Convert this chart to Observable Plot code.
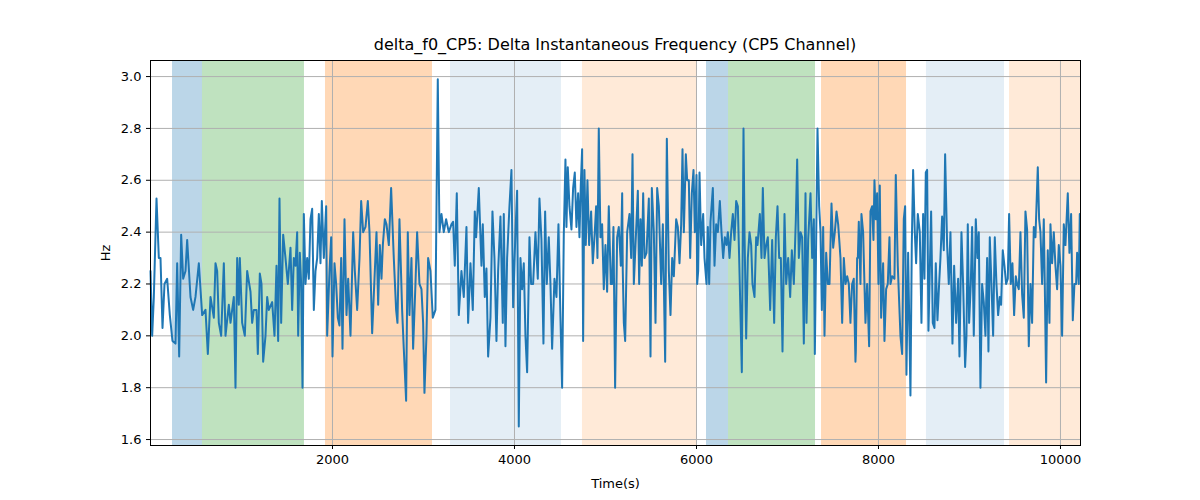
<!DOCTYPE html>
<html><head><meta charset="utf-8">
<script src="https://cdn.jsdelivr.net/npm/d3@7"></script>
<script src="https://cdn.jsdelivr.net/npm/@observablehq/plot@0.6"></script>
<style>
body{margin:0;background:#fff;font-family:"DejaVu Sans",sans-serif;}
#title{height:52px;width:1200px;box-sizing:border-box;padding-top:36px;padding-left:150px;padding-right:120px;text-align:center;font-size:16px;line-height:18px;}
</style></head><body>
<div id="title">delta_f0_CP5: Delta Instantaneous Frequency (CP5 Channel)</div>
<div id="chart"></div>
<script>
// Shaded intervals (seconds)
const spanStart = [242, 571, 1923, 3297, 4747, 6110, 6352, 7374, 8527, 9440];
const spanEnd   = [571, 1692, 3099, 4516, 6000, 6352, 7308, 8308, 9385, 10220];
const spanColor = ["#1f77b4","#2ca02c","#ff7f0e","#1f77b4","#ff7f0e","#1f77b4","#2ca02c","#ff7f0e","#1f77b4","#ff7f0e"];
const spanAlpha = [0.3,0.3,0.3,0.12,0.16,0.3,0.3,0.3,0.12,0.16];

// Series read in four windows: start time, sample index (3.663 s per unit), value (Hz)
const UNIT = 3.663;
const seg1Start = 0;
const seg1Idx = [0,5,10,18,25,30,36,42,50,58,66,75,80,86,92,98,105,110,120,128,135,145,155,165,172,180,190,195,200,205,212,220,225,235,240,250,255,260,265,268,275,283,290,300,305,310,318,322,328,333,338,345,350,355,365,372,378,383,387,392,398,405,412,420,425,430,435,440,443,448,452,456,460,465,470,475,480,485,490,495,500,505,510,514,520,527,530,537,542,546,552,557,562,567,572,576,582,588,593,600,608,613,620,627,632,638,645,652,657,665,672,678,683,688,693,697,703,708,715];
const seg1Val = [2.25,2.0,2.15,2.53,2.3,2.3,2.03,2.2,2.22,2.08,1.98,1.97,2.28,1.92,2.39,2.22,2.25,2.37,2.15,2.1,2.15,2.28,2.08,2.1,1.93,2.15,2.07,2.28,2.25,2.05,2.0,2.28,2.0,2.12,2.05,2.15,1.8,2.3,2.12,2.3,2.05,2.0,2.25,2.17,2.05,2.1,2.1,1.93,2.24,2.2,1.9,2.0,2.15,2.1,2.13,2.0,2.27,1.98,2.53,2.05,2.39,2.3,2.2,2.34,2.1,2.3,2.27,2.4,2.0,2.32,2.2,1.8,2.47,2.2,2.3,2.22,2.45,2.49,2.1,2.25,2.3,2.47,2.28,2.52,2.3,2.5,2.0,2.25,2.38,1.92,2.28,2.2,2.07,2.04,2.3,1.95,2.45,2.08,2.22,2.0,2.4,2.25,2.1,2.3,2.52,2.4,2.42,2.52,2.4,2.01,2.22,2.4,2.12,2.35,2.22,2.35,2.45,2.43,2.35];
const seg2Start = 2582;
const seg2Idx = [17,25,32,36,42,50,55,62,67,72,78,83,90,95,102,108,113,117,123,128,135,142,150,157,162,168,175,182,190,198,203,208,214,220,228,235,243,248,255,262,268,272,280,288,292,298,303,308,315,321,327,333,338,345,352,355,360,365,372,378,383,390,395,400,405,410,415,420,425,432,437,443,450,457,462,468,474,479,484,490,495,500,507,513,519,525,530,535,540,543,547,552,558,563,568,573,578,582,586,590,593,597,601,606,611,617,622,628,632,636,640,645,650,655,660,665,670,676,680,684,689,695,700,706,712];
const seg2Val = [2.57,2.3,2.1,2.05,2.45,2.1,1.95,1.75,2.4,2.08,2.3,1.95,2.2,2.4,2.2,2.18,2.05,1.78,2.0,2.3,2.25,2.07,2.1,2.99,2.4,2.47,2.4,2.45,2.4,2.43,2.44,2.27,2.55,2.08,2.25,2.15,2.42,2.05,2.28,2.1,2.48,2.38,2.57,2.27,2.43,2.15,2.26,1.92,2.07,2.48,2.3,1.98,2.25,2.46,2.05,2.47,1.96,2.3,2.5,2.64,2.11,2.4,2.56,1.65,2.3,2.18,2.28,2.0,1.86,2.38,2.2,2.2,2.4,2.22,2.53,2.37,1.97,2.48,2.2,2.38,2.2,1.95,2.22,2.15,2.43,2.07,1.8,2.39,2.68,2.42,2.65,2.5,2.41,2.57,2.63,2.42,2.55,2.38,2.58,2.72,1.98,2.64,2.35,2.6,2.35,2.48,2.28,2.4,2.5,2.3,2.8,2.38,2.43,2.18,2.35,2.17,2.5,2.2,2.2,2.42,1.8,2.38,2.42,2.27,2.25];
const seg3Start = 5165;
const seg3Idx = [0,5,10,14,20,27,32,36,40,45,52,56,60,64,68,72,78,85,90,94,100,105,110,115,122,127,134,139,145,150,155,160,167,172,177,182,186,190,196,200,205,209,214,219,223,228,230,233,237,242,248,252,258,262,266,270,277,282,287,292,298,303,308,313,318,322,327,332,337,342,347,352,356,364,369,372,377,382,387,392,396,402,407,411,418,423,427,432,437,442,449,455,461,466,471,476,481,486,492,497,503,509,514,520,526,530,535,540,545,550,555,558,563,570,575,580,583,591,596,600,604,608,612,617,622,627,633,638,643,648,653,660,665,670,675,680,685,690,695,700,706,712];
const seg3Val = [2.3,2.55,2.05,1.98,2.4,2.47,2.3,2.7,2.2,2.35,2.56,2.2,2.45,2.27,2.55,2.3,2.32,2.53,1.92,2.57,2.4,2.05,2.57,2.5,2.2,2.43,1.9,2.76,2.25,2.08,2.3,2.23,2.45,2.42,2.28,2.43,2.72,2.4,2.7,2.6,2.6,2.3,2.55,2.64,2.4,2.62,2.2,2.25,2.63,2.35,2.47,2.3,2.2,2.42,2.2,2.44,2.57,2.27,2.43,2.4,2.52,2.4,2.3,2.38,2.35,2.4,2.3,2.4,2.47,2.37,2.52,2.5,2.3,1.86,2.8,2.4,1.99,2.3,2.4,2.35,2.2,2.15,2.38,2.35,2.47,2.3,2.57,2.3,2.35,2.38,2.1,2.37,2.05,2.38,2.5,2.3,2.3,1.94,2.47,2.2,2.3,2.15,2.33,2.2,2.45,2.68,2.3,2.4,2.38,1.97,2.55,2.05,2.37,2.55,2.3,2.45,1.93,2.8,2.5,2.4,2.1,2.42,2.0,2.32,2.2,2.2,2.51,2.34,2.4,2.48,2.43,2.3,2.05,2.3,2.2,2.23,2.2,2.06,2.2,2.2,1.94,2.3];
const seg4Start = 7692;
const seg4Idx = [0,5,10,15,20,25,30,33,38,45,50,56,60,65,69,72,76,80,84,88,92,98,102,107,112,117,120,125,132,136,142,150,155,160,164,168,173,180,184,188,193,197,202,208,213,218,222,226,230,234,238,242,247,252,256,261,266,270,275,280,284,290,295,300,306,311,317,323,327,333,338,344,348,352,356,361,365,370,376,381,385,390,395,400,405,410,414,418,423,428,433,438,443,448,452,457,462,467,472,476,481,486,491,496,500,505,510,515,520,525,530,535,540,545,550,555,562,566,570,575,580,583,587,592,597,600,605,610,615,620,625,630,635,640,645,652,657,662,667,672,677,680,685,688];
const seg4Val = [2.05,2.2,2.22,1.9,2.3,2.44,2.2,2.47,2.4,2.05,2.2,1.96,2.48,2.5,2.37,2.6,2.45,2.55,2.2,2.58,2.07,2.28,1.98,2.18,2.2,2.38,2.2,2.23,2.22,2.62,2.27,2.0,1.93,2.45,2.5,1.85,2.32,1.77,2.35,2.64,2.4,2.28,2.47,2.4,2.05,2.47,2.22,2.63,2.64,2.02,2.25,2.48,2.05,2.03,2.28,2.06,2.2,2.3,2.46,2.33,2.7,2.35,2.2,2.4,1.97,2.27,2.05,2.22,1.92,2.4,2.2,1.88,2.0,2.43,2.05,2.2,2.42,2.0,2.45,2.3,2.4,1.8,2.2,2.13,2.0,2.3,1.94,2.38,2.2,2.0,2.38,2.2,2.08,2.15,2.12,2.33,2.27,2.2,2.22,2.47,2.2,2.28,2.08,2.23,2.2,2.18,2.4,2.16,2.07,2.48,2.41,1.96,2.2,2.05,2.42,2.38,2.65,2.45,2.4,2.2,2.45,2.2,1.82,2.33,2.05,2.43,2.28,2.4,2.27,2.18,2.35,2.27,2.0,2.43,2.35,2.55,2.32,2.47,2.06,2.2,2.2,2.32,2.2,2.47];

const xTicks = [2000, 4000, 6000, 8000, 10000];
const yTicks = [1.6, 1.8, 2.0, 2.2, 2.4, 2.6, 2.8, 3.0];

const series = [];
[[seg1Start,seg1Idx,seg1Val],[seg2Start,seg2Idx,seg2Val],[seg3Start,seg3Idx,seg3Val],[seg4Start,seg4Idx,seg4Val]]
  .forEach(([s, idx, val]) => idx.forEach((k, i) => series.push({t: s + k * UNIT, v: val[i]})));
series.sort((a, b) => a.t - b.t);
const spans = spanStart.map((s, i) => ({x1: s, x2: spanEnd[i], c: spanColor[i], a: spanAlpha[i]}));

const chart = Plot.plot({
  width: 1200, height: 448,
  marginLeft: 150, marginRight: 120, marginTop: 8, marginBottom: 55,
  style: {fontFamily: "DejaVu Sans, sans-serif", fontSize: "13px", background: "#fff"},
  x: {domain: [0, 10220], label: null},
  y: {domain: [1.577, 3.062], label: null},
  marks: [
    Plot.rect(spans, {x1: "x1", x2: "x2", fill: "c", fillOpacity: "a"}),
    Plot.gridX(xTicks, {stroke: "#b0b0b0", strokeOpacity: 1, strokeWidth: 1}),
    Plot.gridY(yTicks, {stroke: "#b0b0b0", strokeOpacity: 1, strokeWidth: 1}),
    Plot.line(series, {x: "t", y: "v", stroke: "#1f77b4", strokeWidth: 2}),
    Plot.frame({stroke: "#000"}),
    Plot.axisX({ticks: xTicks, tickFormat: d => String(d), tickSize: 4, label: "Time(s)", labelAnchor: "center", labelArrow: "none", labelOffset: 42, fontSize: 13}),
    Plot.axisY({ticks: yTicks, tickFormat: d => d.toFixed(1), tickSize: 4, label: "Hz", labelAnchor: "center", labelArrow: "none", labelOffset: 50, fontSize: 13})
  ]
});
document.getElementById("chart").appendChild(chart);
</script></body></html>
